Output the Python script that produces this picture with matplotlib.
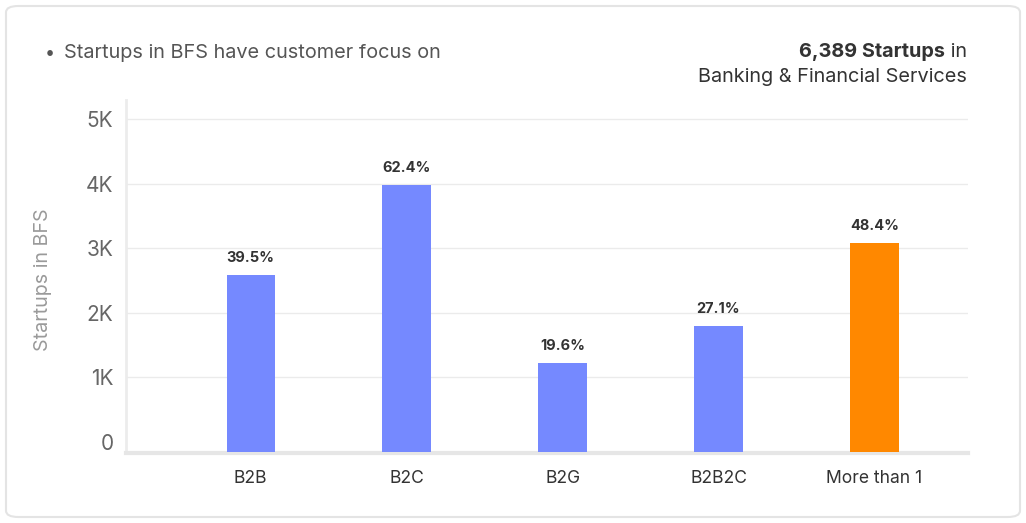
import matplotlib
matplotlib.use("Agg")
import matplotlib.pyplot as plt
from matplotlib.patches import FancyBboxPatch
import numpy as np

categories = ["B2B", "B2C", "B2G", "B2B2C", "More than 1"]
values = [2590, 3985, 1225, 1800, 3090]
pct_labels = ["39.5%", "62.4%", "19.6%", "27.1%", "48.4%"]
colors = ["#7589FF", "#7589FF", "#7589FF", "#7589FF", "#FF8800"]
yticks = [0, 1000, 2000, 3000, 4000, 5000]
ytick_labels = ["0", "1K", "2K", "3K", "4K", "5K"]

plt.rcParams['font.family'] = ['Inter', 'DejaVu Sans']

W, H = 1026, 523
fig = plt.figure(figsize=(W / 100, H / 100), dpi=100)
fig.patch.set_facecolor("white")

# card
card = FancyBboxPatch((6 / W, 6 / H), (W - 12) / W, (H - 12) / H,
                      boxstyle="round,pad=0,rounding_size=0.012",
                      transform=fig.transFigure, facecolor="white",
                      edgecolor="#e4e4e4", linewidth=1.5, zorder=-10)
fig.patches.append(card)

ax = fig.add_axes([126 / W, 1 - 453 / H, (968 - 126) / W, (453 - 100) / H])
ax.set_zorder(5)
ax.set_facecolor("none")
ymin, ymax = -170, 5300
ax.set_ylim(ymin, ymax)
ax.set_xlim(-0.80, 4.60)

x = np.arange(len(categories))
base = -155
ax.bar(x, np.array(values) - base, bottom=base, width=0.31, color=colors, zorder=3)

for xi, v, lab in zip(x, values, pct_labels):
    ax.annotate(lab, (xi, v), xytext=(0, 7), textcoords="offset points",
                ha="center", va="bottom", fontsize=10.5, fontweight="bold",
                color="#333333", zorder=4)

ax.set_yticks(yticks)
ax.set_yticklabels(ytick_labels)
ax.set_xticks(x)
ax.set_xticklabels(categories)
ax.tick_params(axis="y", length=0, pad=9, labelsize=15, labelcolor="#666666")
ax.tick_params(axis="x", length=0, pad=12, labelsize=12.6, labelcolor="#333333")

ax.grid(axis="y", color="#ebebeb", linewidth=1, zorder=0)
ax.set_axisbelow(True)
ax.get_ygridlines()[0].set_visible(False)

for s in ["top", "right"]:
    ax.spines[s].set_visible(False)
ax.spines["left"].set_color("#ececec")
ax.spines["left"].set_linewidth(2)
ax.spines["bottom"].set_color("#e6e6e6")
ax.spines["bottom"].set_linewidth(3)

ax.set_ylabel("Startups in BFS", fontsize=14.2, color="#9a9a9a")
ax.yaxis.set_label_coords(-0.088, 0.49)

# header
fs = 14.3
fig.text(45 / W, 1 - 53 / H, "\u2022", fontsize=13, color="#555555", va="center", ha="left")
fig.text(64 / W, 1 - 53 / H, "Startups in BFS have customer focus on", fontsize=fs,
         color="#555555", va="center", ha="left")

fig.canvas.draw()
r = fig.canvas.get_renderer()
t_in = fig.text(967 / W, 1 - 52 / H, " in", fontsize=fs, color="#333333",
                va="center", ha="right")
bb = t_in.get_window_extent(renderer=r)
fig.text((bb.x0) / W, 1 - 52 / H, "6,389 Startups", fontsize=fs, fontweight="bold",
         color="#333333", va="center", ha="right")
fig.text(967 / W, 1 - 77 / H, "Banking & Financial Services", fontsize=fs,
         color="#333333", va="center", ha="right")

fig.savefig("out.png", dpi=100, facecolor="white")
